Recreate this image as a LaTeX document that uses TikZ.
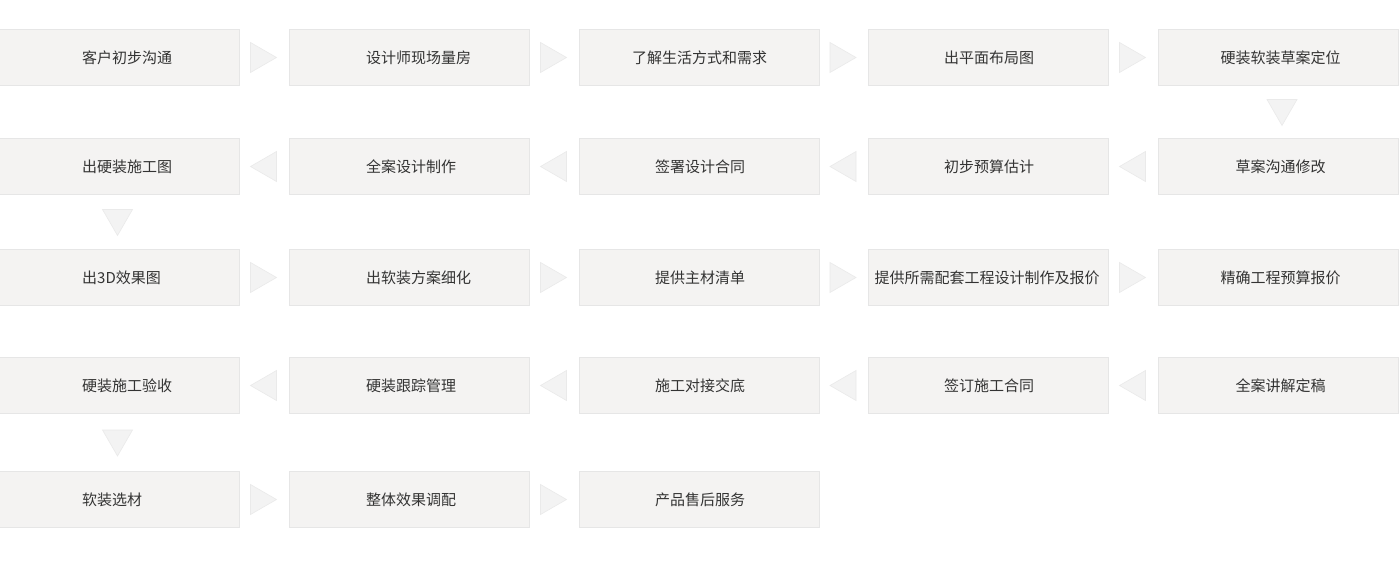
\documentclass[tikz,border=0pt]{standalone}
\usepackage{fontspec}
\newfontfamily\cjk{Noto Sans CJK SC}
\usetikzlibrary{calc}
\definecolor{boxfill}{HTML}{F4F3F2}
\definecolor{boxline}{HTML}{E6E6E6}
\definecolor{trifill}{HTML}{F3F3F3}
\definecolor{triline}{HTML}{EAEAEA}
\definecolor{txt}{HTML}{333333}
\newcommand{\rtri}[2]{%
  \coordinate (m-#1-#2) at ($(#1.east)!0.5!(#2.west)+(-1,0)$);
  \draw[arrowtri, shift={(m-#1-#2)}] (-13,-15) -- (13,0) -- (-13,15) -- cycle;}
\newcommand{\ltri}[2]{% from #1 (right) to #2 (left)
  \coordinate (m-#1-#2) at ($(#2.east)!0.5!(#1.west)+(-1,0)$);
  \draw[arrowtri, shift={(m-#1-#2)}] (13,-15) -- (-13,0) -- (13,15) -- cycle;}
\newcommand{\dtri}[3]{% from #1 (top) to #2 (below), x offset #3
  \coordinate (m-#1-#2) at ($(#1.south)!0.5!(#2.north)+(#3,0.5)$);
  \draw[arrowtri, shift={(m-#1-#2)}] (-15,-13) -- (15,-13) -- (0,13) -- cycle;}
\newcommand{\colA}[2]{\node[lefttext] (t#1) at (82,0 |- b#1.center) {#2};}
\newcommand{\colB}[2]{\node[lefttext] (t#1) at (366,0 |- b#1.center) {#2};}
\newcommand{\colC}[3]{\node[steptext] (t#1) at (#3,0 |- b#1.center) {#2};}
\begin{document}
\begin{tikzpicture}[x=1pt,y=-1pt,
  stepbox/.style={draw=boxline, fill=boxfill, line width=1pt, minimum width=240pt,
    minimum height=56pt, inner sep=0pt, anchor=north west},
  steptext/.style={text=txt, font=\cjk\fontsize{15pt}{15pt}\selectfont, inner sep=0pt},
  lefttext/.style={steptext, anchor=west},
  arrowtri/.style={fill=trifill, draw=triline, line width=0.6pt, line join=miter}]
\useasboundingbox (0,0) rectangle (1400,564);
\fill[white] (0,0) rectangle (1400,564);
% boxes
\foreach \r/\y in {1/29,2/138,3/249,4/357}{
  \foreach \c/\x in {1/-1,2/289,3/579,4/868,5/1158}{
    \node[stepbox] (b\r\c) at (\x,\y) {};
  }
}
\foreach \c/\x in {1/-1,2/289,3/579}{
  \node[stepbox] (b5\c) at (\x,471) {};
}
% row 1
\colA{11}{客户初步沟通}
\colB{12}{设计师现场量房}
\colC{13}{了解生活方式和需求}{699.5}
\colC{14}{出平面布局图}{989}
\colC{15}{硬装软装草案定位}{1280.5}
% row 2
\colA{21}{出硬装施工图}
\colB{22}{全案设计制作}
\colC{23}{签署设计合同}{700}
\colC{24}{初步预算估计}{989}
\colC{25}{草案沟通修改}{1280.5}
% row 3
\colA{31}{出3D效果图}
\colB{32}{出软装方案细化}
\colC{33}{提供主材清单}{700}
\colC{34}{提供所需配套工程设计制作及报价}{987}
\colC{35}{精确工程预算报价}{1280.5}
% row 4
\colA{41}{硬装施工验收}
\colB{42}{硬装跟踪管理}
\colC{43}{施工对接交底}{700}
\colC{44}{签订施工合同}{989}
\colC{45}{全案讲解定稿}{1280.5}
% row 5
\colA{51}{软装选材}
\colB{52}{整体效果调配}
\colC{53}{产品售后服务}{700}
% connectors (triangles)
\rtri{b11}{b12}\rtri{b12}{b13}\rtri{b13}{b14}\rtri{b14}{b15}
\dtri{b15}{b25}{3.5}
\ltri{b25}{b24}\ltri{b24}{b23}\ltri{b23}{b22}\ltri{b22}{b21}
\dtri{b21}{b31}{-2}
\rtri{b31}{b32}\rtri{b32}{b33}\rtri{b33}{b34}\rtri{b34}{b35}
\ltri{b45}{b44}\ltri{b44}{b43}\ltri{b43}{b42}\ltri{b42}{b41}
\dtri{b41}{b51}{-2}
\rtri{b51}{b52}\rtri{b52}{b53}
\end{tikzpicture}
\end{document}
